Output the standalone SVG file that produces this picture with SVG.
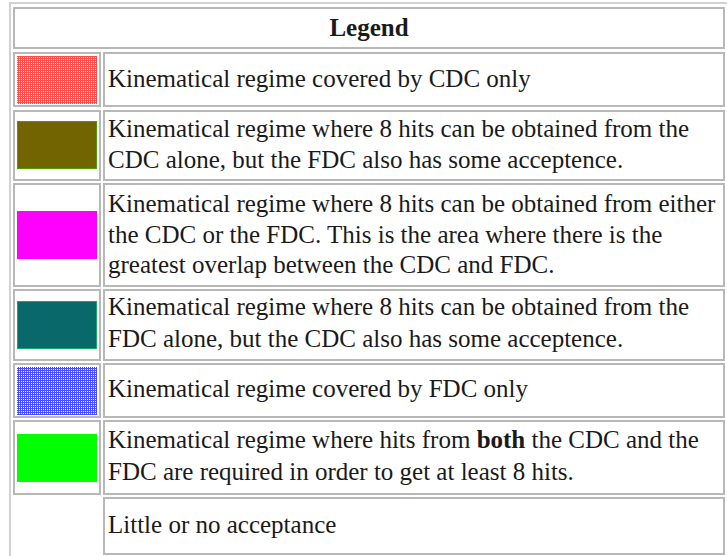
<svg xmlns="http://www.w3.org/2000/svg" width="727" height="556" viewBox="0 0 727 556">
<style>
.cell{fill:#fff;stroke:#b8b8b8;stroke-width:2}
.t{font-family:"Liberation Serif","Times New Roman",serif;font-size:25px;fill:#1a1a1a}
.h{font-weight:bold;text-anchor:middle}
</style>
<defs>
<pattern id="pRed" width="2" height="2" patternUnits="userSpaceOnUse"><rect width="2" height="2" fill="#ff4c4c"/><rect x="1" y="1" width="1" height="1" fill="#ffdcdc"/></pattern>
<pattern id="pBlue" width="2" height="2" patternUnits="userSpaceOnUse"><rect width="2" height="2" fill="#4c4cff"/><rect x="1" y="1" width="1" height="1" fill="#f0f0ff"/></pattern>
</defs>
<rect width="727" height="556" fill="#fff"/>
<g id="table">
<path d="M10,556 V3 H727" fill="none" stroke="#d2d2d2" stroke-width="2"/>
</g>
<g id="header">
<rect class="cell" x="14" y="8" width="710" height="40"/>
<text class="t h" x="369" y="36">Legend</text>
</g>
<g id="row1">
<rect class="cell" x="14" y="53" width="86" height="53"/>
<rect x="17" y="56" width="80" height="48" fill="url(#pRed)"/>
<rect class="cell" x="104" y="53" width="620" height="53"/>
<text class="t" x="108" y="87">Kinematical regime covered by CDC only</text>
</g>
<g id="row2">
<rect class="cell" x="14" y="111" width="86" height="69"/>
<rect x="17.5" y="121.5" width="79" height="47" fill="#726400" stroke="#4aa000" stroke-width="1"/>
<rect class="cell" x="104" y="111" width="620" height="69"/>
<text class="t" x="108" y="137">Kinematical regime where 8 hits can be obtained from the</text>
<text class="t" x="108" y="168">CDC alone, but the FDC also has some acceptence.</text>
</g>
<g id="row3">
<rect class="cell" x="14" y="184" width="86" height="102"/>
<rect x="17" y="211" width="80" height="48" fill="#ff00ff"/>
<rect class="cell" x="104" y="184" width="620" height="102"/>
<text class="t" x="108" y="212">Kinematical regime where 8 hits can be obtained from either</text>
<text class="t" x="108" y="243">the CDC or the FDC. This is the area where there is the</text>
<text class="t" x="108" y="273">greatest overlap between the CDC and FDC.</text>
</g>
<g id="row4">
<rect class="cell" x="14" y="290" width="86" height="70"/>
<rect x="17.5" y="301.5" width="79" height="47" fill="#08686a" stroke="#10b060" stroke-width="1"/>
<rect class="cell" x="104" y="290" width="620" height="70"/>
<text class="t" x="108" y="315">Kinematical regime where 8 hits can be obtained from the</text>
<text class="t" x="108" y="347">FDC alone, but the CDC also has some acceptence.</text>
</g>
<g id="row5">
<rect class="cell" x="14" y="364" width="86" height="53"/>
<rect x="17" y="367" width="80" height="48" fill="url(#pBlue)"/>
<rect class="cell" x="104" y="364" width="620" height="53"/>
<text class="t" x="108" y="397">Kinematical regime covered by FDC only</text>
</g>
<g id="row6">
<rect class="cell" x="14" y="421" width="86" height="73"/>
<rect x="17" y="434" width="80" height="48" fill="#00ff00"/>
<rect class="cell" x="104" y="421" width="620" height="73"/>
<text class="t" x="108" y="448">Kinematical regime where hits from <tspan font-weight="bold">both</tspan> the CDC and the</text>
<text class="t" x="108" y="480">FDC are required in order to get at least 8 hits.</text>
</g>
<g id="row7">
<rect class="cell" x="104" y="498" width="620" height="56"/>
<text class="t" x="108" y="533">Little or no acceptance</text>
</g>
</svg>
